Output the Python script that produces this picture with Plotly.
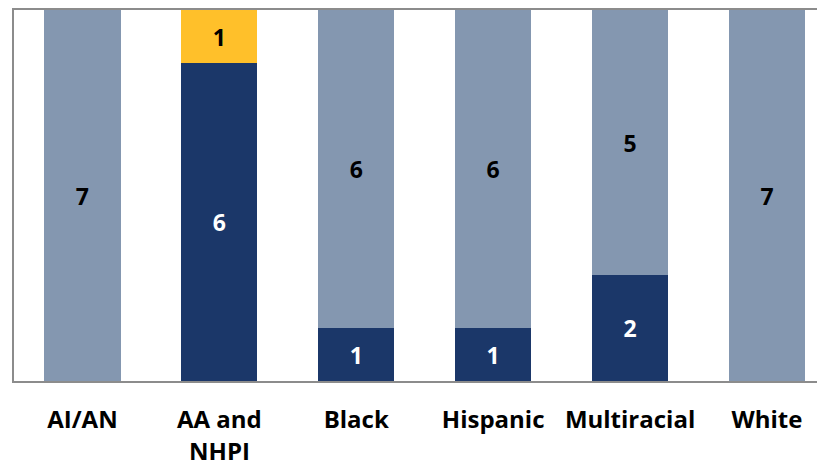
import plotly.graph_objects as go

categories = ["AI/AN", "AA and NHPI", "Black", "Hispanic", "Multiracial", "White"]
tick_labels = ["AI/AN", "AA and", "Black", "Hispanic", "Multiracial", "White"]
navy_vals = [0, 6, 1, 1, 2, 0]
gray_vals = [7, 0, 6, 6, 5, 7]
yellow_vals = [0, 1, 0, 0, 0, 0]

NAVY = "#1b3769"
GRAY = "#8497b0"
YELLOW = "#ffc02a"
FONT = "Open Sans"

def txt(vals):
    return [str(v) if v else "" for v in vals]

fig = go.Figure()
for vals, color, tcolor in [(navy_vals, NAVY, "white"),
                            (gray_vals, GRAY, "black"),
                            (yellow_vals, YELLOW, "black")]:
    fig.add_trace(go.Bar(
        x=categories, y=vals, marker=dict(color=color, line=dict(width=0)),
        text=txt(vals), textposition="inside", insidetextanchor="middle",
        textangle=0, constraintext="none",
        textfont=dict(family=FONT, size=23, color=tcolor, weight="bold"),
        width=0.556, hoverinfo="skip"))

# page body has an 8px margin, so the figure is sized/offset to compensate
fig.update_layout(
    barmode="stack", showlegend=False,
    width=817, height=460,
    margin=dict(l=6, r=0, t=0, b=87),
    paper_bgcolor="white", plot_bgcolor="white",
    xaxis=dict(range=[-0.5, 5.424], showline=True, linecolor="#8c8c8c", linewidth=2,
               mirror=True, ticks="outside", ticklen=16, tickcolor="rgba(0,0,0,0)",
               tickmode="array", tickvals=categories, ticktext=tick_labels,
               tickfont=dict(family=FONT, size=24, color="black", weight="bold"),
               showgrid=False, zeroline=False),
    yaxis=dict(range=[0, 7], showline=True, linecolor="#8c8c8c", linewidth=2,
               showticklabels=False, showgrid=False, zeroline=False, ticks=""),
)
# second line of the "AA and NHPI" label (wider line spacing than Plotly's <br>)
fig.add_annotation(x=categories[1], xref="x", y=0, yref="paper", yanchor="middle",
                   yshift=-69, text="NHPI", showarrow=False, borderpad=0,
                   font=dict(family=FONT, size=24, color="black", weight="bold"))
fig.add_shape(type="line", xref="paper", yref="paper", x0=-0.009, x1=-0.009,
              y0=0, y1=0.018, line=dict(color="#8c8c8c", width=2))

fig.write_html("out.html")
